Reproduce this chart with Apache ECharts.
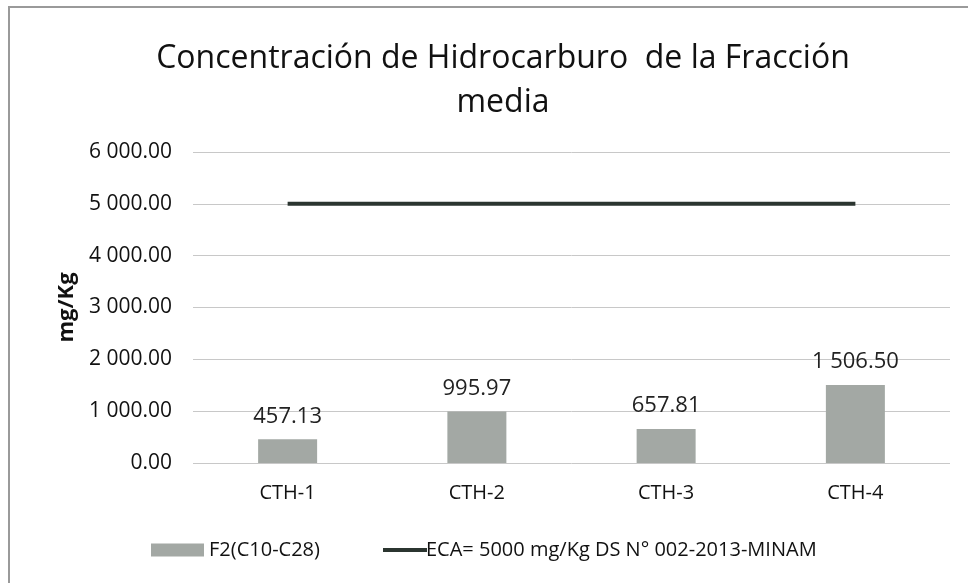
<!DOCTYPE html>
<html><head><meta charset="utf-8">
<script src="https://cdn.jsdelivr.net/npm/echarts@6/dist/echarts.min.js"></script>
<style>html,body{margin:0;padding:0;background:#fff}#c{width:968px;height:583px}</style>
</head><body><div id="c"></div>
<script>
const categories = ['CTH-1', 'CTH-2', 'CTH-3', 'CTH-4'];
const f2Values = [457.13, 995.97, 657.81, 1506.50];
const ecaValues = [5000, 5000, 5000, 5000];
const yTicks = [0, 1000, 2000, 3000, 4000, 5000, 6000];
const seriesNames = ['F2(C10-C28)', 'ECA= 5000 mg/Kg DS N° 002-2013-MINAM'];

function fmt(v) {
  const parts = Number(v).toFixed(2).split('.');
  parts[0] = parts[0].replace(/\B(?=(\d{3})+(?!\d))/g, ' ');
  return parts.join('.');
}

const FONT = 'Open Sans';
const chart = echarts.init(document.getElementById('c'));
chart.setOption({
  backgroundColor: '#fff',
  animation: false,
  textStyle: { fontFamily: FONT },
  title: {
    text: 'Concentración de Hidrocarburo  de la Fracción\nmedia',
    left: 498, top: 32, textAlign: 'center',
    textStyle: { fontFamily: FONT, fontSize: 32, fontWeight: 'normal', color: '#111', lineHeight: 44 }
  },
  grid: { left: 193, right: 18, top: 152, bottom: 120, containLabel: false },
  legend: [
    {
      top: 535, left: 146,
      itemWidth: 53, itemHeight: 13,
      textStyle: { fontFamily: FONT, fontSize: 20, color: '#111' },
      data: [{ name: seriesNames[0], icon: 'rect' }]
    },
    {
      top: 535, left: 378,
      itemWidth: 44, itemHeight: 4,
      textStyle: { fontFamily: FONT, fontSize: 20, color: '#111', padding: [0, 0, 0, -6] },
      data: [{ name: seriesNames[1], icon: 'rect' }]
    }
  ],
  xAxis: {
    type: 'category', data: categories,
    axisLine: { show: false }, axisTick: { show: false },
    axisLabel: { fontFamily: FONT, fontSize: 20, color: '#111', margin: 20 }
  },
  yAxis: {
    type: 'value', min: 0, max: 6000, interval: 1000,
    name: 'mg/Kg', nameLocation: 'middle', nameGap: 114, nameRotate: 90,
    nameTextStyle: { fontFamily: FONT, fontSize: 22, fontWeight: 'bold', color: '#111' },
    axisLabel: { fontFamily: FONT, fontSize: 21, color: '#111', margin: 21,
      formatter: v => yTicks.includes(v) ? fmt(v) : '' },
    splitLine: { lineStyle: { color: '#c8c8c8', width: 1 } }
  },
  series: [
    {
      name: seriesNames[0], type: 'bar', data: f2Values, barWidth: 59,
      itemStyle: { color: '#a3a8a4' },
      label: { show: true, position: 'top', distance: 12, fontFamily: FONT, fontSize: 22, color: '#222',
        formatter: p => fmt(p.value) }
    },
    {
      name: seriesNames[1], type: 'line', data: ecaValues,
      symbol: 'none', lineStyle: { color: '#2b3530', width: 4 }, itemStyle: { color: '#2b3530' }
    }
  ],
  graphic: [
    { type: 'rect', shape: { x: 9, y: 7, width: 980, height: 600 },
      style: { fill: 'none', stroke: '#9a9a9a', lineWidth: 2 }, silent: true }
  ]
});
</script></body></html>
